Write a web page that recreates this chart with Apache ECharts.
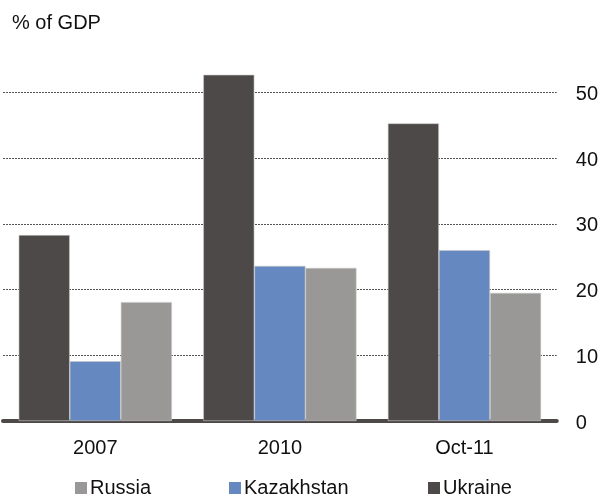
<!DOCTYPE html>
<html>
<head>
<meta charset="utf-8">
<script src="https://cdn.jsdelivr.net/npm/echarts@6/dist/echarts.min.js"></script>
<style>
html,body{margin:0;padding:0;background:#fff;}
#chart{width:601px;height:496px;}
</style>
</head>
<body>
<div id="chart"></div>
<script>
// 数据
var categories = ["2007", "2010", "Oct-11"];
var ukraine = [28.3, 52.7, 45.3];
var kazakhstan = [9.1, 23.6, 26.0];
var russia = [18.1, 23.3, 19.5];
var yTicks = [0, 10, 20, 30, 40, 50];

var FONT = "Liberation Sans";
var cUkr = "#4d4948", cKaz = "#6688c0", cRus = "#999896";

var chart = echarts.init(document.getElementById("chart"));

// 单个图例
function legendAt(name, left){
    return {
        data: [name], left: left, top: 478,
        icon: "rect", itemWidth: 12, itemHeight: 12, itemGap: 4,
        itemStyle: {borderWidth: 0},
        textStyle: {fontFamily: FONT, fontSize: 20, color: "#111", padding: [0, 0, 0, -2]},
        selectedMode: false, padding: 0
    };
}

var option = {
    animation: false,
    textStyle: {fontFamily: FONT},
    title: {
        text: "% of GDP", left: 7, top: 8,
        textStyle: {fontFamily: FONT, fontSize: 20, fontWeight: "normal", color: "#111"}
    },
    legend: [legendAt("Russia", 75), legendAt("Kazakhstan", 229), legendAt("Ukraine", 428)],
    grid: {left: 3, right: 44, top: 92.5, bottom: 75},
    xAxis: {
        type: "category",
        data: categories,
        axisLine: {lineStyle: {color: cUkr, width: 4}},
        axisTick: {show: false},
        axisLabel: {fontFamily: FONT, fontSize: 20, color: "#111", margin: 17}
    },
    yAxis: {
        type: "value",
        position: "right",
        min: yTicks[0], max: yTicks[yTicks.length - 1], interval: 10,
        axisLine: {show: false},
        axisTick: {show: false},
        axisLabel: {fontFamily: FONT, fontSize: 20, color: "#111", margin: 19, align: "left",
                    verticalAlign: "top", lineHeight: 20, padding: [-8, 0, 0, 0]},
        splitLine: {lineStyle: {color: "#555", type: [2, 1], width: 1}}
    },
    series: [
        {name: "Ukraine", type: "bar", data: ukraine, clip: false, barCategoryGap: "17%", barGap: "0%",
         itemStyle: {color: cUkr, borderColor: "#c8c8c8", borderWidth: 0.6}},
        {name: "Kazakhstan", type: "bar", data: kazakhstan, clip: false,
         itemStyle: {color: cKaz, borderColor: "#c8c8c8", borderWidth: 0.6}},
        {name: "Russia", type: "bar", data: russia, clip: false,
         itemStyle: {color: cRus, borderColor: "#c8c8c8", borderWidth: 0.6}}
    ]
};
chart.setOption(option);
</script>
</body>
</html>
